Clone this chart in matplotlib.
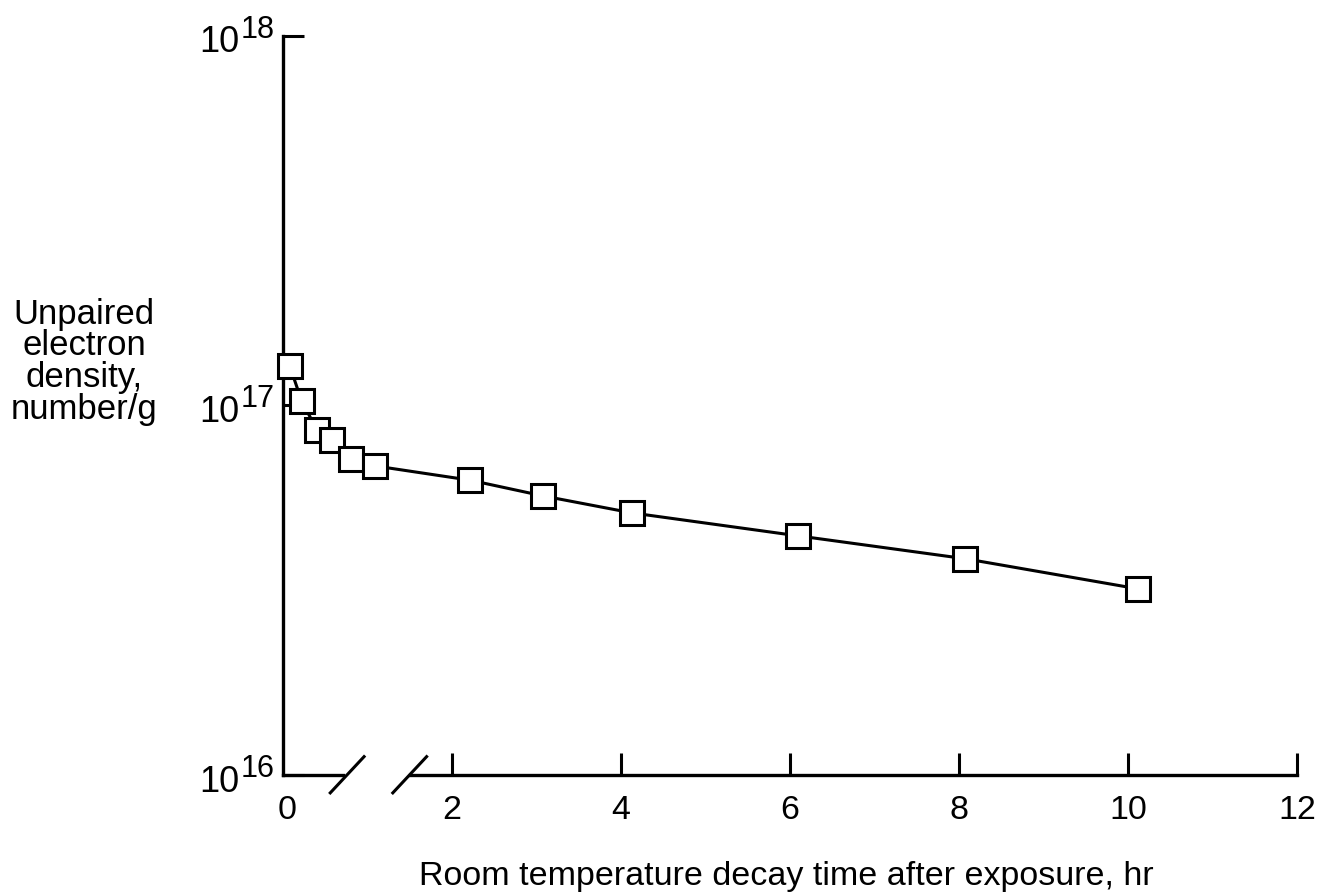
import matplotlib.pyplot as plt
import matplotlib.transforms as mtransforms
import numpy as np

plt.rcParams['font.family'] = ['Liberation Sans', 'DejaVu Sans']

# decay time (hr) and unpaired electron density (number/g)
time_hr = [0.08, 0.22, 0.40, 0.58, 0.80, 1.09, 2.21, 3.08, 4.13, 6.09, 8.07, 10.12]
density = [1.28e17, 1.03e17, 8.6e16, 8.07e16, 7.17e16, 6.86e16,
           6.28e16, 5.69e16, 5.12e16, 4.44e16, 3.85e16, 3.19e16]

x_ticks = [2, 4, 6, 8, 10, 12]
x_ticklabels = ['2', '4', '6', '8', '10', '12']
y_ticks = [1e16, 1e17, 1e18]
y_exponents = ['16', '17', '18']
axis_end = 0.71           # first piece of the broken x axis ends here
break_at = [0.76, 1.50]   # slash marks

fig = plt.figure(figsize=(13.24, 8.93), dpi=100)
ax = fig.add_axes([0.2137, 0.132, 0.766, 0.828])

ax.plot(time_hr, density, color='black', lw=2.2, marker='s', markersize=17,
        markerfacecolor='white', markeredgecolor='black', markeredgewidth=2.2,
        zorder=3, clip_on=False)

ax.set_yscale('log')
ax.set_ylim(1e16, 1e18)
ax.set_xlim(0, 12)
ax.set_yticks(y_ticks)
ax.set_yticklabels([])
ax.yaxis.set_minor_locator(plt.NullLocator())
ax.set_xticks(x_ticks)
ax.set_xticklabels(x_ticklabels)

for s in ['top', 'right', 'bottom']:
    ax.spines[s].set_visible(False)
ax.spines['left'].set_linewidth(2.4)

ax.tick_params(axis='y', direction='in', length=15, width=2.2)
ax.tick_params(axis='x', direction='in', length=16, width=2.2, labelsize=24.5, pad=14)

# y tick labels written as 10 with a big superscript
ytr = mtransforms.blended_transform_factory(ax.transAxes, ax.transData)
for val, ex in zip(y_ticks, y_exponents):
    ax.annotate('10', xy=(0, val), xycoords=ytr, xytext=(-44, -7),
                textcoords='offset pixels', ha='right', va='center', fontsize=26)
    ax.annotate(ex, xy=(0, val), xycoords=ytr, xytext=(-8, 6),
                textcoords='offset pixels', ha='right', va='center', fontsize=22)

# the "0" label at the origin
tr = mtransforms.blended_transform_factory(ax.transData, ax.transAxes)
ax.annotate('0', xy=(0.05, 0), xycoords=tr, xytext=(0, -20), textcoords='offset pixels',
            ha='center', va='top', fontsize=24.5)

# broken bottom axis
ax.plot([0, axis_end], [0, 0], transform=tr, color='black', lw=2.4, clip_on=False)
ax.plot([break_at[1], 12], [0, 0], transform=tr, color='black', lw=2.4, clip_on=False)
for b in break_at:
    ax.plot([b - 0.2, b + 0.2], [-0.024, 0.025], transform=tr, color='black',
            lw=2.2, clip_on=False)

ax.set_ylabel('Unpaired\nelectron\ndensity,\nnumber/g', rotation=0, fontsize=25,
              ha='center', va='center', linespacing=0.95)
ax.yaxis.set_label_coords(-0.196, 0.559)
ax.set_xlabel('Room temperature decay time after exposure, hr', fontsize=24.5,
              va='baseline')
ax.xaxis.set_label_coords(0.496, -0.149)

fig.savefig('out.png', dpi=100)
